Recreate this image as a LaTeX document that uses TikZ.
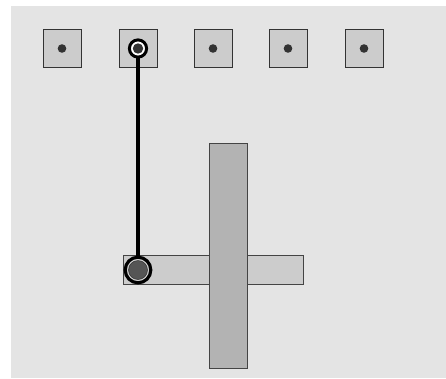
\documentclass[tikz,border=0pt]{standalone}
\usetikzlibrary{positioning}
\definecolor{panel}{HTML}{E4E4E4}
\definecolor{keygray}{HTML}{CCCCCC}
\definecolor{bargray}{HTML}{B3B3B3}
\definecolor{dotgray}{HTML}{333333}
\definecolor{knobgray}{HTML}{555555}
\begin{document}
\begin{tikzpicture}[x=1pt,y=-1pt,
  keybox/.style={draw=dotgray,fill=keygray,line width=1pt,minimum size=38pt,inner sep=0pt},
  barbox/.style={draw=knobgray!80!black,line width=1pt,inner sep=0pt}]
\useasboundingbox (0,0) rectangle (446,378);
\fill[panel] (11,6) rectangle (446,378);
% row of keys
\foreach \i/\x in {1/62,2/138,3/213,4/288,5/364}{
  \node[keybox] (key\i) at (\x,48.5) {};
  \fill[dotgray] (key\i) circle (4.3);
}
% slider cross
\node[barbox,fill=keygray,minimum width=180pt,minimum height=29pt] (hbar) at (213,269.5) {};
\node[barbox,fill=bargray,minimum width=38pt,minimum height=225pt] (vbar) at (228,255.5) {};
\coordinate (knob) at (138,270);
% link
\draw[line width=3.6pt] (key2.center) -- (knob);
\draw[line width=3pt,fill=white] (key2.center) circle (8.6);
\fill[dotgray] (key2.center) circle (5.2);
\draw[line width=3.2pt,fill=keygray!90!white] (knob) circle (12.8);
\draw[fill=knobgray,draw=dotgray,line width=0.5pt] (knob) circle (9.5);
\end{tikzpicture}
\end{document}
